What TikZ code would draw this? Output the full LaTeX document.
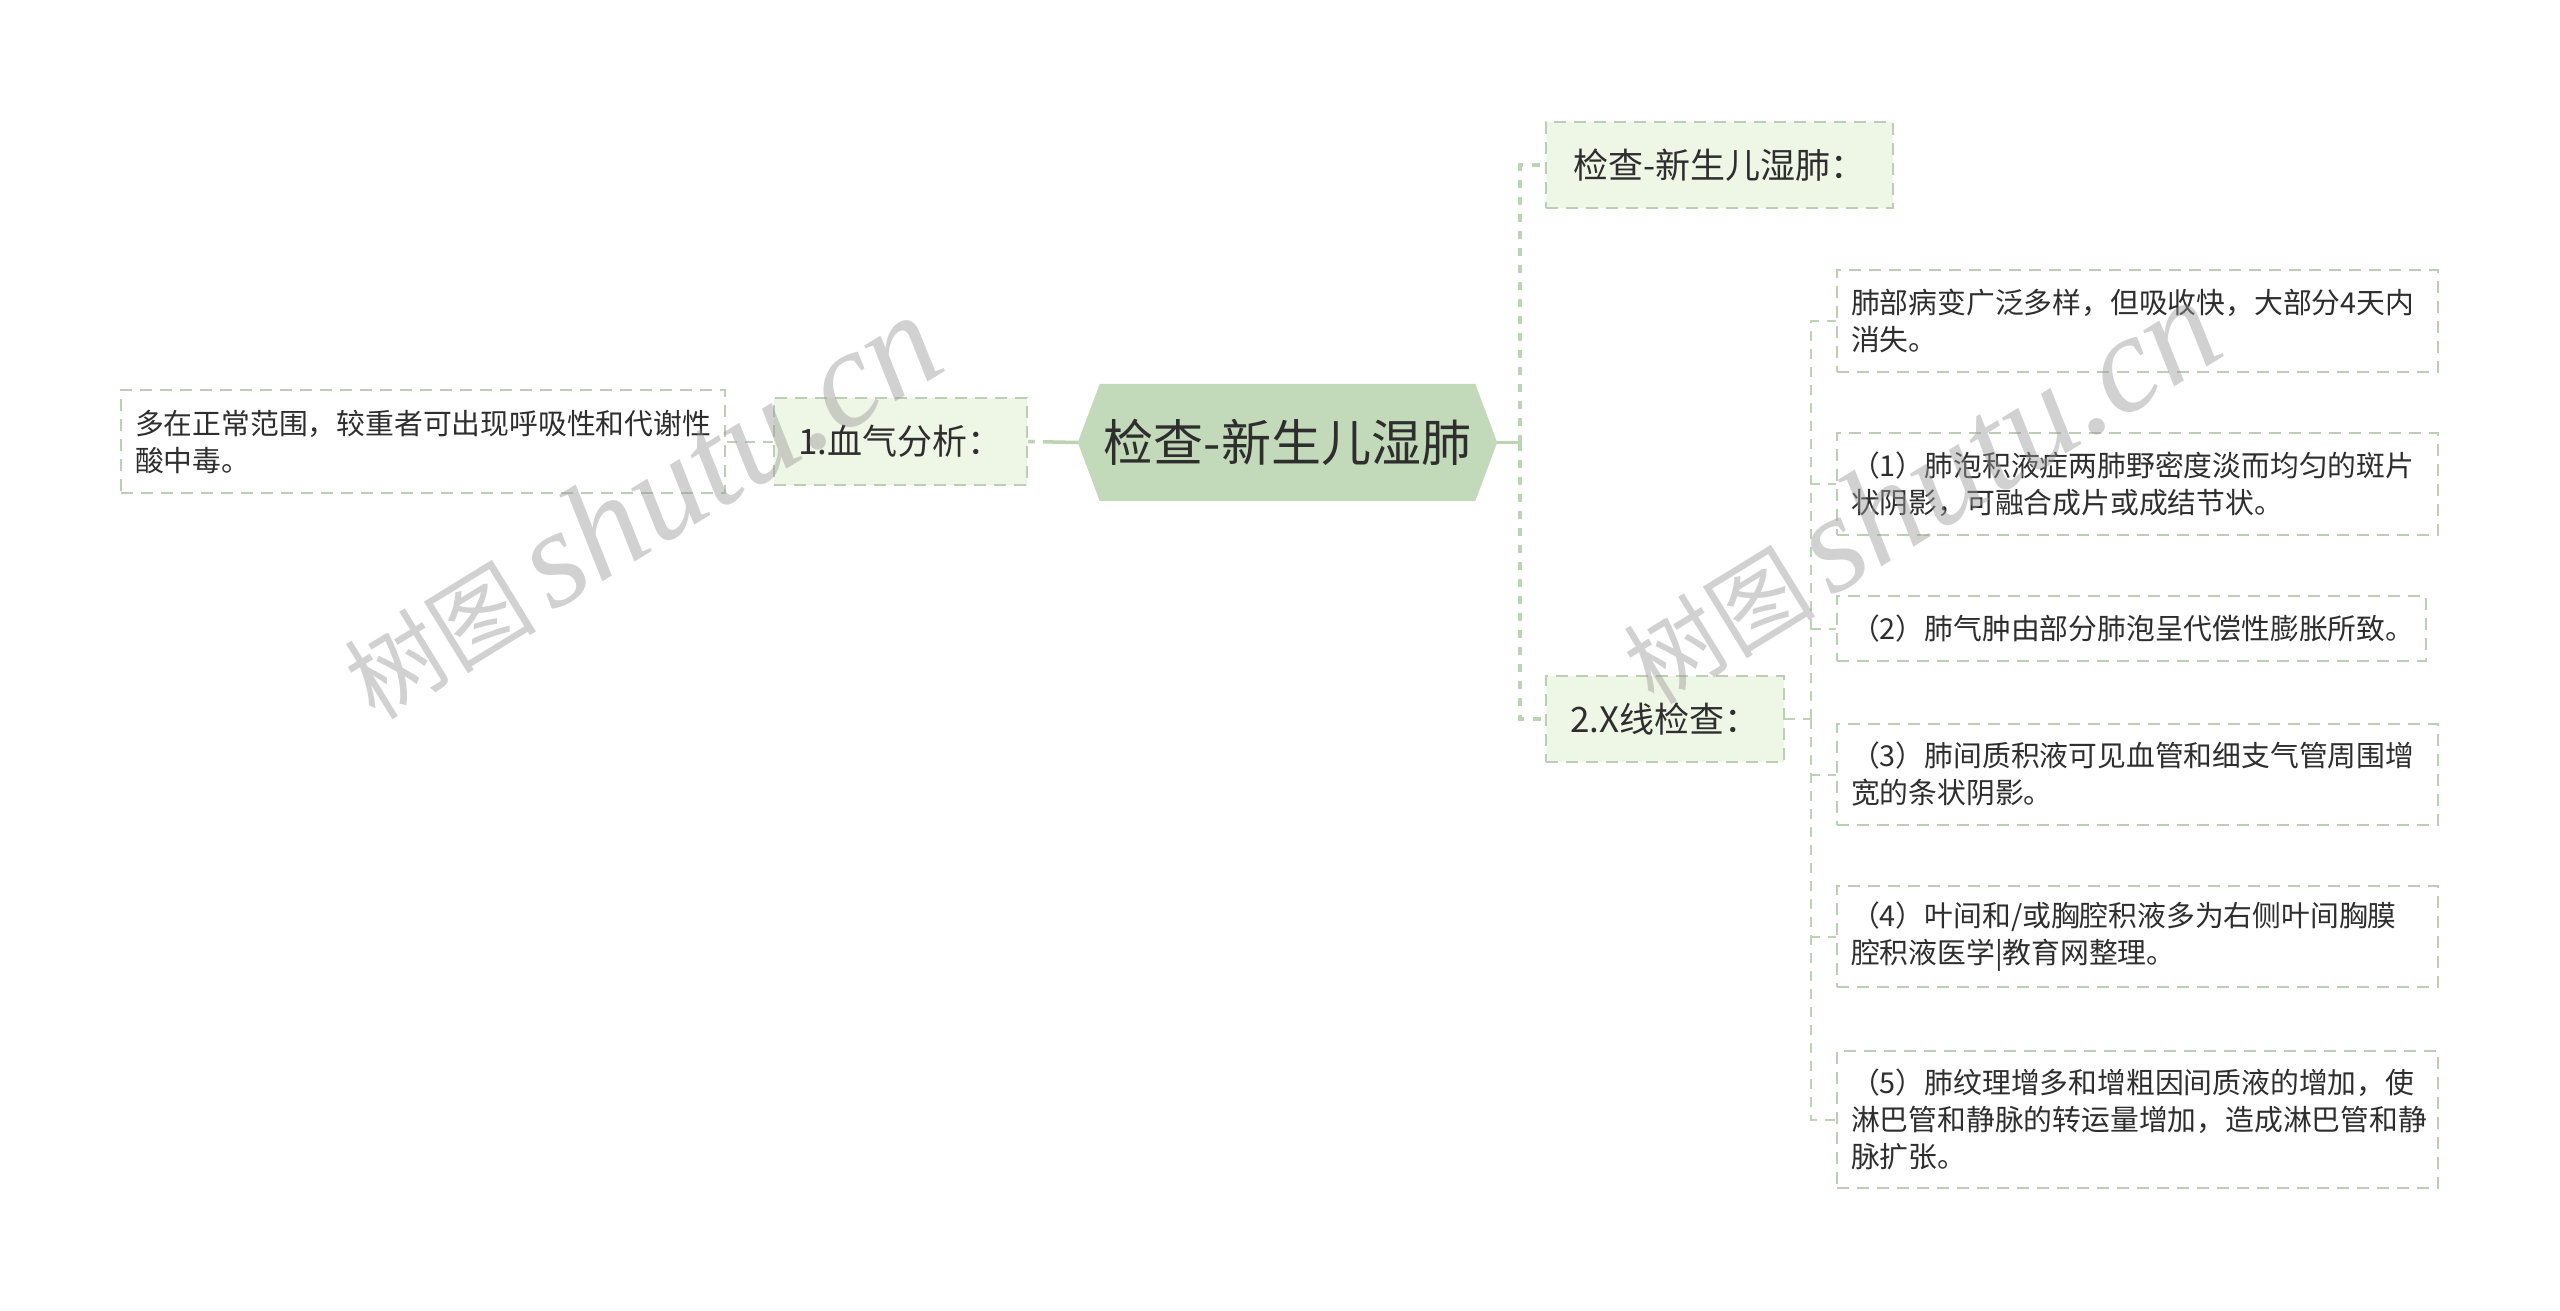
\documentclass[tikz,border=0pt]{standalone}
\usepackage{fontspec}
\setmainfont{Noto Sans CJK SC}
\newfontfamily\wmlatin{Liberation Serif}
\usetikzlibrary{backgrounds}
\definecolor{hexfill}{HTML}{C2DAB9}
\definecolor{subfill}{HTML}{EEF6E6}
\definecolor{edge}{HTML}{BCD3B4}
\definecolor{boxline}{HTML}{BCCEB5}
\definecolor{ink}{HTML}{2E2E2E}
\definecolor{wm}{HTML}{9A9A9A}
\begin{document}
\begin{tikzpicture}[x=1pt,y=-1pt,
  hexnode/.style={minimum width=419pt,minimum height=117pt,inner sep=0pt,text=ink,font=\fontsize{50}{58}\selectfont},
  subbox/.style={draw=boxline,fill=subfill,line width=2pt,dash pattern=on 12pt off 8pt,inner sep=0pt,text=ink,font=\fontsize{35}{42}\selectfont},
  leafbox/.style={draw=boxline,fill=white,line width=2pt,dash pattern=on 12pt off 8pt,inner xsep=14pt,inner ysep=0pt,align=left,text=ink,font=\fontsize{28.8}{37}\selectfont},
  link/.style={draw=edge,line width=3.5pt},
  dlink/.style={draw=edge,line width=3.5pt,dash pattern=on 8pt off 9pt},
  thinlink/.style={draw=edge,line width=2pt,dash pattern=on 10pt off 8pt},
  wmark/.style={rotate=31.6,text=wm,opacity=0.45,inner sep=0pt}
]
\useasboundingbox (0,0) rectangle (2560,1311);

% central topic
\node[hexnode] (c) at (1287.5,442.5) {检查-新生儿湿肺};

% main branches
\node[subbox,minimum width=253pt,minimum height=87pt] (n1) at (900.5,441.5) {1.血气分析：};
\node[subbox,minimum width=347pt,minimum height=86pt] (k1) at (1719.5,165) {检查-新生儿湿肺：};
\node[subbox,minimum width=238pt,minimum height=86pt] (n2) at (1665,719) {2.X线检查：};

% leaves
\node[leafbox,text width=576pt,minimum height=103pt] (l0) at (423,441.5) {多在正常范围，较重者可出现呼吸性和代谢性\\酸中毒。};
\node[leafbox,text width=573pt,minimum height=102pt] (r0) at (2137.5,320.5) {肺部病变广泛多样，但吸收快，大部分4天内\\消失。};
\node[leafbox,text width=573pt,minimum height=102pt] (r1) at (2137.5,484) {（1）肺泡积液症两肺野密度淡而均匀的斑片\\状阴影，可融合成片或成结节状。};
\node[leafbox,text width=561pt,minimum height=65pt] (r2) at (2131.5,628.5) {（2）肺气肿由部分肺泡呈代偿性膨胀所致。};
\node[leafbox,text width=573pt,minimum height=101pt] (r3) at (2137.5,774.5) {（3）肺间质积液可见血管和细支气管周围增\\宽的条状阴影。};
\node[leafbox,text width=573pt,minimum height=101pt] (r4) at (2137.5,936.5) {（4）叶间和/或胸腔积液多为右侧叶间胸膜\\腔积液医学|教育网整理。};
\node[leafbox,text width=573pt,minimum height=137pt] (r5) at (2137.5,1119.5) {（5）肺纹理增多和增粗因间质液的增加，使\\淋巴管和静脉的转运量增加，造成淋巴管和静\\脉扩张。};

\coordinate (cr) at (1520,442.5);
\coordinate (xr) at (1811,719);

\begin{scope}[on background layer]
  \fill[white] (0,0) rectangle (2560,1311);
  \draw[link,dash pattern=on 35pt off 8pt] (c.west) -- (n1.east);
  \draw[thinlink] (n1.west) -- (l0.east);
  \draw[link] (c.east) -- (cr);
  \draw[dlink] (cr) |- (k1.west);
  \draw[dlink] (cr) |- (n2.west);
  \draw[thinlink] (n2.east) -- (xr);
  \foreach \r in {r0,r1,r2,r3,r4,r5} { \draw[thinlink] (xr) |- (\r.west); }
  \fill[hexfill] (c.west) -- ([xshift=22pt]c.north west) -- ([xshift=-22pt]c.north east)
    -- (c.east) -- ([xshift=-22pt]c.south east) -- ([xshift=22pt]c.south west) -- cycle;
\end{scope}

% watermarks
\node[wmark] (w1) at (640,507) {\fontsize{96}{100}\selectfont 树图\,{\wmlatin\itshape\fontsize{139}{139}\selectfont shutu.cn}};
\node[wmark] (w2) at (1919,492) {\fontsize{96}{100}\selectfont 树图\,{\wmlatin\itshape\fontsize{139}{139}\selectfont shutu.cn}};
\end{tikzpicture}
\end{document}
